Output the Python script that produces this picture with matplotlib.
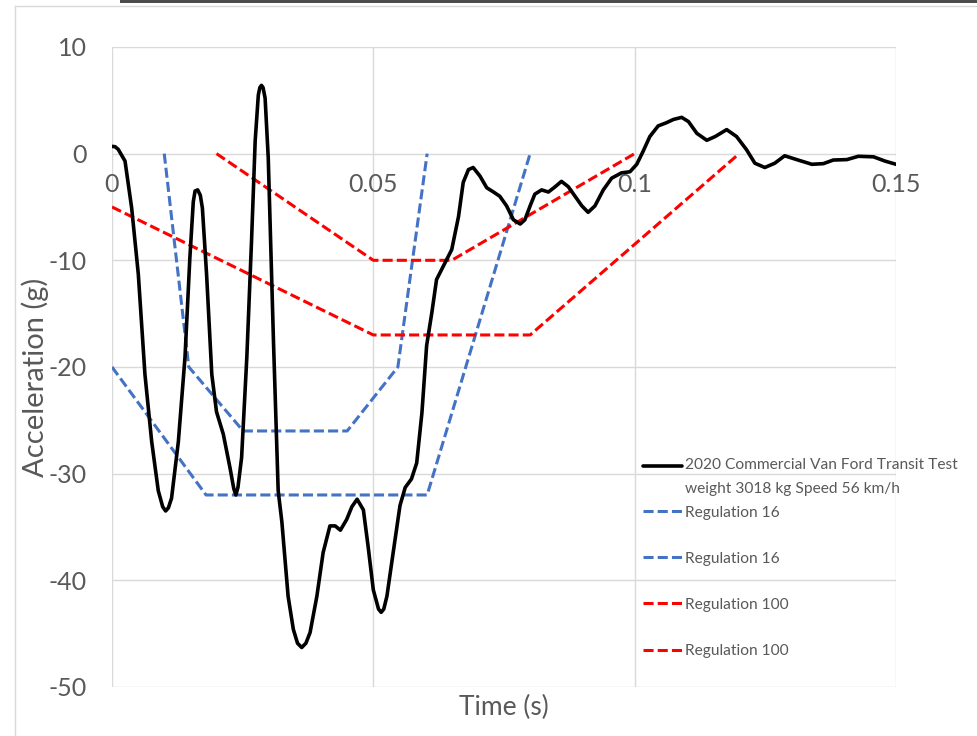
import numpy as np
import matplotlib
matplotlib.use("Agg")
import matplotlib.pyplot as plt
from matplotlib.legend_handler import HandlerLine2D
from matplotlib.lines import Line2D
from matplotlib.patches import Rectangle

plt.rcParams["font.family"] = ["Lato", "DejaVu Sans"]
plt.rcParams["axes.unicode_minus"] = False

# crash pulse (time in s, acceleration in g)
van_t = [0.0, 0.0006, 0.0012, 0.0025, 0.00377, 0.00504, 0.00631, 0.0076, 0.00886, 0.0097,
         0.01027, 0.0108, 0.0114, 0.0127, 0.01397, 0.0149, 0.01556, 0.0159, 0.0164, 0.0169,
         0.0173, 0.0181, 0.0191, 0.02, 0.0213, 0.0226, 0.0233, 0.0237, 0.0241, 0.0248,
         0.0258, 0.0267, 0.0274, 0.028, 0.0283, 0.0286, 0.0289, 0.0293, 0.0299, 0.0309,
         0.0318, 0.0325, 0.0337, 0.0347, 0.0355, 0.0363, 0.0371, 0.0379, 0.0392, 0.0404,
         0.0417, 0.0427, 0.0437, 0.0449, 0.0459, 0.0469, 0.0481, 0.049, 0.05, 0.051,
         0.0515, 0.052, 0.0526, 0.0538, 0.0551, 0.0561, 0.0573, 0.0583, 0.0593, 0.0602,
         0.0612, 0.0621, 0.065, 0.0663, 0.0672, 0.0682, 0.0691, 0.0704, 0.0717, 0.073,
         0.0742, 0.0755, 0.0768, 0.0781, 0.079, 0.08, 0.0809, 0.0822, 0.0835, 0.0848,
         0.086, 0.0873, 0.0886, 0.0899, 0.0911, 0.0924, 0.094, 0.0956, 0.0975, 0.0991,
         0.1004, 0.1016, 0.1029, 0.1045, 0.1061, 0.1074, 0.109, 0.1103, 0.1119, 0.1138,
         0.1154, 0.1176, 0.1195, 0.1214, 0.123, 0.1249, 0.1268, 0.1287, 0.131, 0.1339,
         0.1361, 0.138, 0.1406, 0.1428, 0.1457, 0.1479, 0.15]
van_g = [0.68, 0.65, 0.4, -0.7, -5.1, -11.3, -20.7, -27.0, -31.6, -33.1,
         -33.5, -33.2, -32.3, -27.0, -19.1, -9.8, -4.5, -3.5, -3.4, -3.9,
         -5.1, -11.3, -20.7, -24.2, -26.3, -29.5, -31.4, -32.0, -31.3, -28.5,
         -19.1, -8.2, 1.2, 5.5, 6.2, 6.4, 6.2, 5.2, -0.4, -17.6,
         -31.6, -34.5, -41.5, -44.6, -45.9, -46.3, -45.9, -44.9, -41.5, -37.4,
         -34.9, -34.9, -35.3, -34.3, -33.1, -32.4, -33.4, -36.8, -40.9, -42.7,
         -43.0, -42.7, -41.5, -37.4, -33.0, -31.3, -30.5, -29.0, -24.3, -18.0,
         -14.9, -11.8, -9.0, -5.9, -2.7, -1.5, -1.3, -2.1, -3.2, -3.6,
         -4.0, -4.9, -6.2, -6.6, -6.2, -4.9, -3.8, -3.4, -3.6, -3.1,
         -2.6, -3.1, -4.0, -4.9, -5.5, -4.9, -3.4, -2.3, -1.8, -1.7,
         -1.0, 0.2, 1.6, 2.6, 2.9, 3.2, 3.4, 3.0, 1.9, 1.25,
         1.6, 2.25, 1.6, 0.37, -0.9, -1.3, -0.9, -0.2, -0.56, -1.0,
         -0.94, -0.6, -0.56, -0.25, -0.3, -0.7, -1.0]

# regulation corridors
r16_low_t = [0.0, 0.018, 0.0603, 0.08]
r16_low_g = [-20, -32, -32, 0]
r16_up_t = [0.01, 0.0147, 0.0251, 0.045, 0.0547, 0.0603]
r16_up_g = [0, -20, -26, -26, -20, 0]
r100_low_t = [0.0, 0.05, 0.08, 0.12]
r100_low_g = [-5, -17, -17, 0]
r100_up_t = [0.02, 0.05, 0.065, 0.1]
r100_up_g = [0, -10, -10, 0]

van_label = "2020 Commercial Van Ford Transit Test\nweight 3018 kg Speed 56 km/h"
x_ticks = [0, 0.05, 0.1, 0.15]
x_tick_labels = ["0", "0.05", "0.1", "0.15"]
y_ticks = [10, 0, -10, -20, -30, -40, -50]

BLUE = "#4472C4"
RED = "#FF0000"
TXT = "#595959"
GRID = "#D9D9D9"
LEG_FS = 11.2


class LiftedLine(HandlerLine2D):
    # puts the legend key next to the first line of a two-line label
    def __init__(self, lift, **kw):
        super().__init__(**kw)
        self.lift = lift

    def create_artists(self, legend, orig_handle, xdescent, ydescent,
                       width, height, fontsize, trans):
        arts = super().create_artists(legend, orig_handle, xdescent, ydescent,
                                      width, height, fontsize, trans)
        for a in arts:
            a.set_ydata(np.asarray(a.get_ydata()) + self.lift * fontsize)
        return arts


fig = plt.figure(figsize=(9.77, 7.36), dpi=100)
ax = fig.add_axes([0.1146, 0.0666, 0.8025, 0.8696])

# chart frame bits from the screenshot
fig.add_artist(Rectangle((120 / 977, 1 - 3 / 736), 1, 3 / 736, transform=fig.transFigure,
                         color="#4D4D4D", lw=0))
fig.add_artist(Line2D([15 / 977, 1], [1 - 5.5 / 736] * 2, transform=fig.transFigure,
                      color=GRID, lw=1))
fig.add_artist(Line2D([15 / 977] * 2, [0, 1 - 5.5 / 736], transform=fig.transFigure,
                      color=GRID, lw=1))

dash = (3.3, 1.35)
h_van, = ax.plot(van_t, van_g, color="black", lw=2.6, label=van_label, zorder=5,
                 solid_joinstyle="round", solid_capstyle="round")
h1, = ax.plot(r16_low_t, r16_low_g, color=BLUE, lw=2.2, dashes=dash, label="Regulation 16")
h2, = ax.plot(r16_up_t, r16_up_g, color=BLUE, lw=2.2, dashes=dash, label="Regulation 16")
h3, = ax.plot(r100_low_t, r100_low_g, color=RED, lw=2.2, dashes=dash, label="Regulation 100")
h4, = ax.plot(r100_up_t, r100_up_g, color=RED, lw=2.2, dashes=dash, label="Regulation 100")

ax.set_xlim(0, 0.15)
ax.set_ylim(-50, 10)
ax.set_xticks(x_ticks)
ax.set_xticklabels(x_tick_labels)
ax.set_yticks(y_ticks)
ax.grid(True, color=GRID, lw=1)
ax.set_axisbelow(True)
for s in ax.spines.values():
    s.set_visible(False)
ax.spines["bottom"].set_position(("data", 0))
ax.tick_params(axis="both", length=0, labelsize=18, labelcolor=TXT)
ax.tick_params(axis="x", pad=14)
ax.tick_params(axis="y", pad=18)

ax.set_xlabel("Time (s)", fontsize=19, color=TXT)
ax.xaxis.set_label_coords(0.5, -0.012)
ax.xaxis.label.set_va("top")
ax.set_ylabel("Acceleration (g)", fontsize=21, color=TXT)
ax.yaxis.set_label_coords(-0.098, 0.483)
ax.yaxis.label.set_va("center")

# two legends: the test curve (two-line label) and the four corridor lines
common = dict(loc="upper left", frameon=False, fontsize=LEG_FS, borderpad=0,
              borderaxespad=0, handlelength=2.5, handletextpad=0.2)
leg_a = ax.legend(handles=[h_van], bbox_to_anchor=(0.677, 0.357),
                  handler_map={h_van: LiftedLine(0.71)}, **common)
leg_a.get_texts()[0].set_linespacing(1.9)
leg_a.get_texts()[0].set_color(TXT)
ax.add_artist(leg_a)

leg_b = ax.legend(handles=[h1, h2, h3, h4], bbox_to_anchor=(0.677, 0.283),
                  labelspacing=2.06, **common)
for t in leg_b.get_texts():
    t.set_color(TXT)

fig.savefig("out.png", dpi=100)
